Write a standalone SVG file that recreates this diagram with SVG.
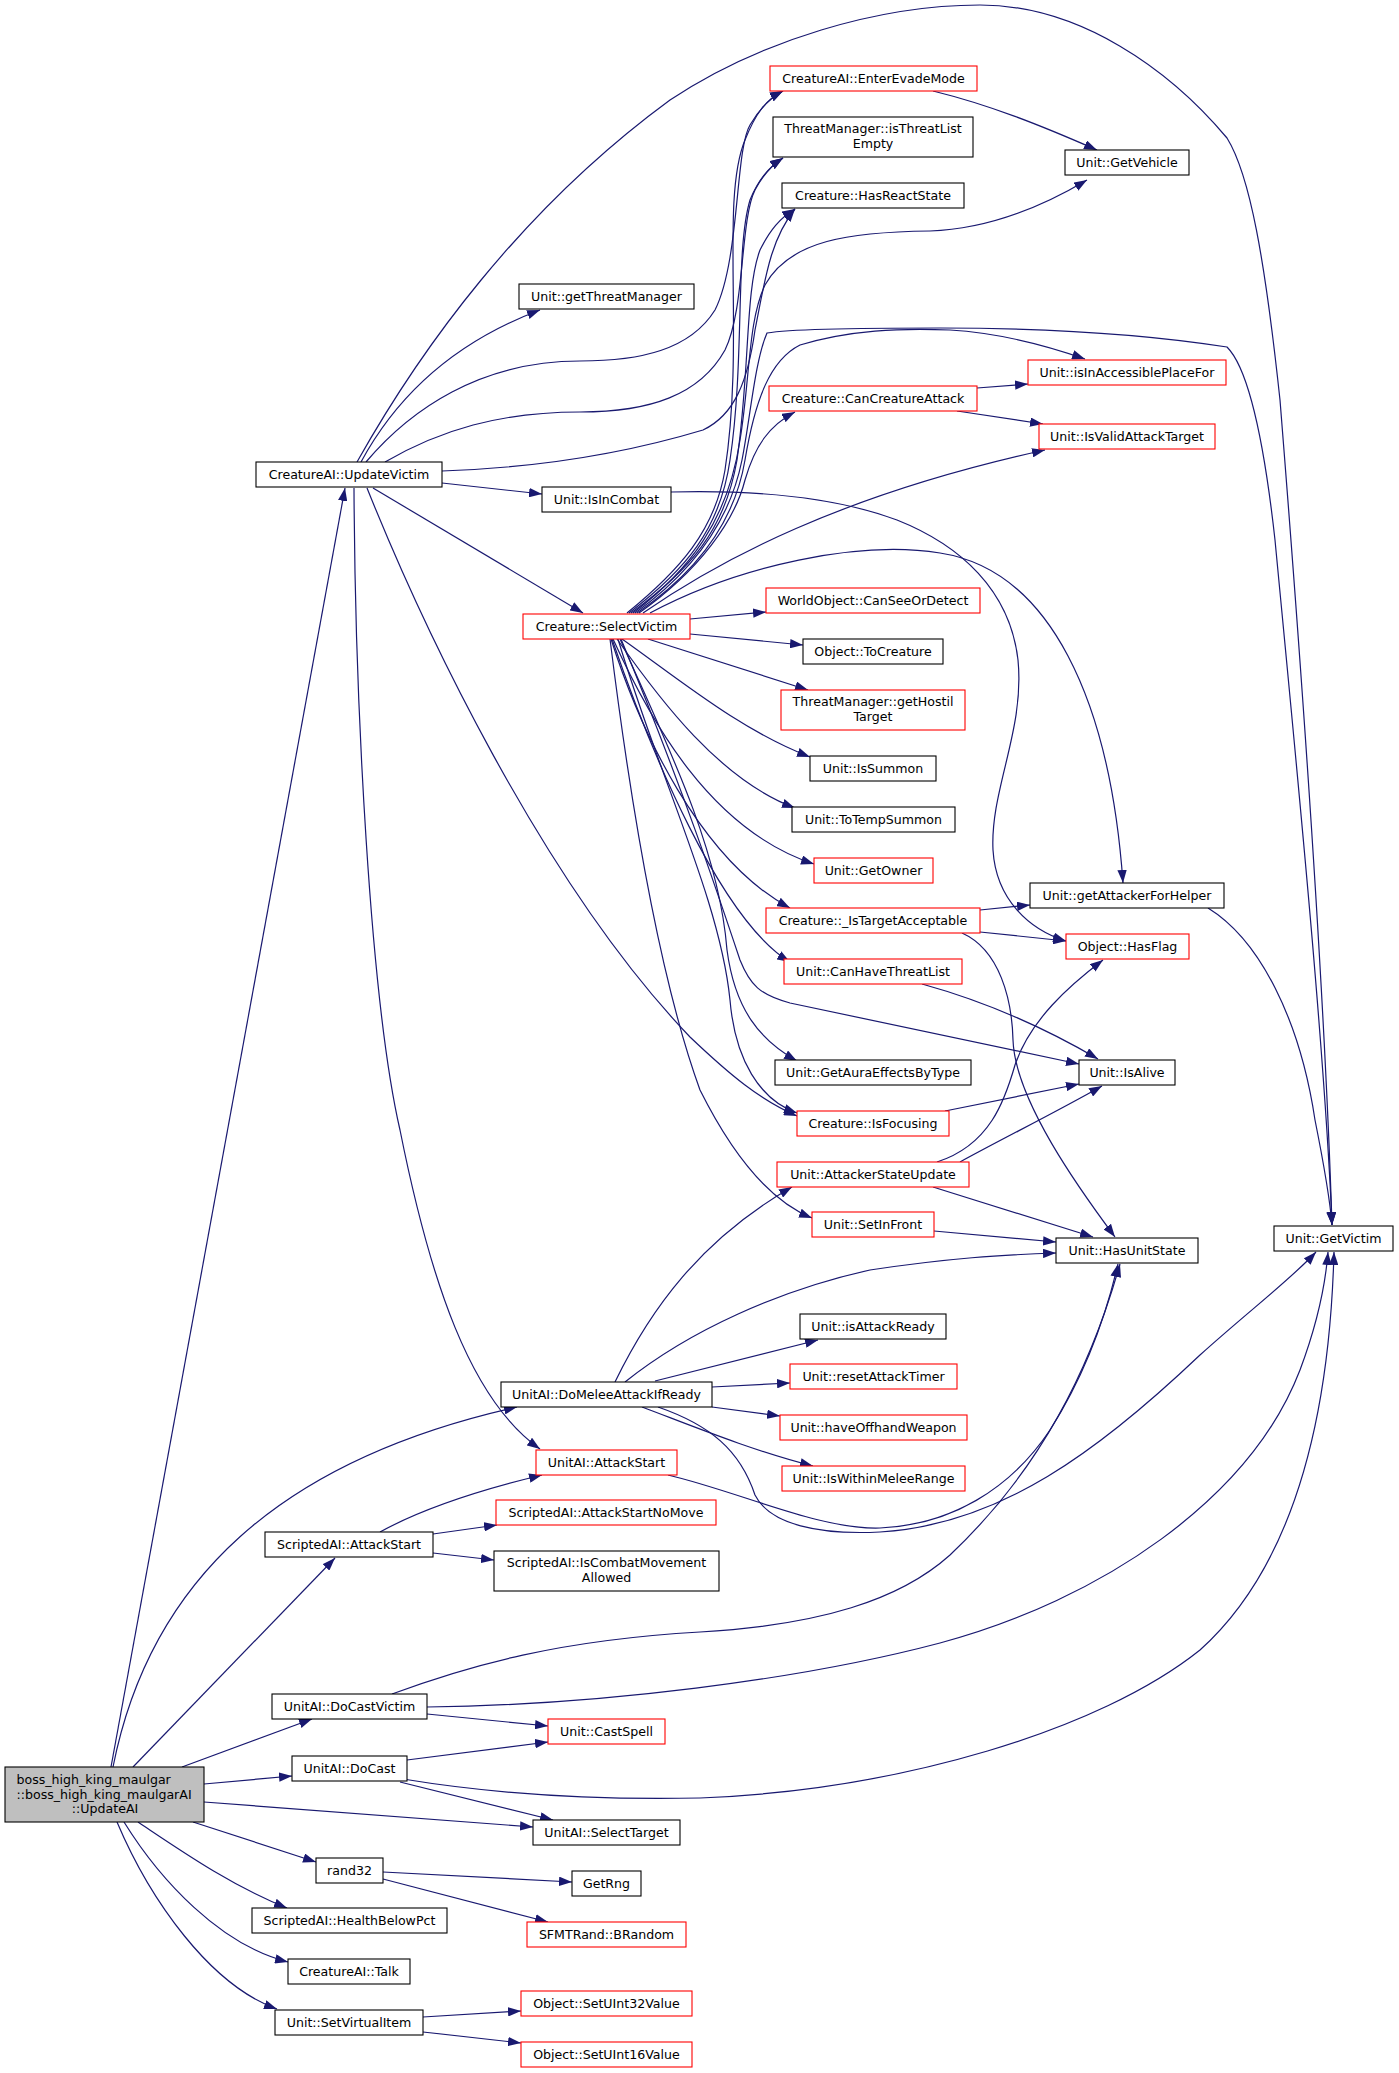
<svg xmlns="http://www.w3.org/2000/svg" width="1399" height="2073" viewBox="0 0 1399 2073">
<defs>
<style>
.n rect{fill:#fff;stroke:#000;stroke-width:1.1}
.n.r rect{stroke:#ff0000}
.n.root rect{fill:#bfbfbf}
text{font-family:"DejaVu Sans","Liberation Sans",sans-serif;font-size:12.6px;fill:#000;text-anchor:middle}
.e path{fill:none;stroke:#191970;stroke-width:1.2;marker-end:url(#ah)}
</style>
<marker id="ah" markerUnits="userSpaceOnUse" viewBox="0 0 13 9.4" refX="13" refY="4.7" markerWidth="13" markerHeight="9.4" orient="auto"><path d="M0,0 L13,4.7 L0,9.4 z" fill="#191970"/></marker>
</defs>
<rect width="1399" height="2073" fill="#fff"/>
<g id="edges" class="e">
<path d="M111,1767 L345,488"/>
<path d="M113,1767 C150,1580 280,1460 517,1407"/>
<path d="M133,1767 L335,1558"/>
<path d="M182,1767 L312,1719"/>
<path d="M204,1784 L292,1776"/>
<path d="M204,1802 L533,1827"/>
<path d="M193,1822 L316,1862"/>
<path d="M138,1822 C180,1850 230,1885 287,1908"/>
<path d="M124,1822 C160,1880 220,1945 288,1962"/>
<path d="M117,1822 C150,1900 210,1985 277,2009"/>
<path d="M357,462 C420,350 520,210 670,100 C760,40 880,5 980,5 C1080,5 1170,70 1227,138 C1250,175 1265,260 1280,400 C1300,650 1325,1000 1332,1225"/>
<path d="M361,462 C400,390 460,340 540,310"/>
<path d="M366,462 C410,410 480,361 580,361 C640,361 690,350 715,310 C740,260 735,150 750,125 C760,108 770,98 783,91"/>
<path d="M385,462 C440,430 500,412 580,412 C650,412 700,395 725,350 C745,310 740,220 755,190 C763,175 772,165 783,158"/>
<path d="M442,471 C530,468 620,455 703,430 C735,415 748,380 755,330 C765,280 770,240 795,209"/>
<path d="M442,483 L542,494"/>
<path d="M373,488 L583,613"/>
<path d="M354,488 C355,700 370,1000 400,1130 C430,1280 470,1400 540,1449"/>
<path d="M367,488 C420,620 540,880 690,1037 C730,1075 760,1100 797,1116"/>
<path d="M627,613 C680,570 715,530 725,470 C745,340 720,200 745,140 C755,115 765,100 783,91"/>
<path d="M629,613 C685,570 720,530 730,460 C745,360 735,250 750,200 C758,180 768,168 783,158"/>
<path d="M631,613 C690,570 725,530 737,460 C750,370 745,290 760,250 C770,230 780,218 795,209"/>
<path d="M633,613 C690,570 728,520 740,440 C750,380 748,320 765,285 C790,240 850,232 930,231 C990,229 1045,205 1087,180"/>
<path d="M635,613 C695,570 730,520 742,460 C750,420 755,360 767,333 C785,330 820,328 940,328 C1050,328 1150,335 1227,347 C1250,370 1265,450 1275,540 C1295,750 1325,1050 1332,1225"/>
<path d="M637,613 C700,570 735,520 745,460 C755,400 770,360 800,345 C850,330 900,328 950,330 C1000,333 1045,345 1085,359"/>
<path d="M639,613 C700,570 735,520 745,480 C755,445 770,425 795,412"/>
<path d="M643,613 C720,560 840,495 1045,450"/>
<path d="M650,613 C740,565 860,540 940,553 C1050,570 1110,700 1123,883"/>
<path d="M690,619 L766,612"/>
<path d="M690,634 L803,645"/>
<path d="M648,639 L808,690"/>
<path d="M622,639 C680,680 740,730 810,757"/>
<path d="M617,639 C660,700 720,780 795,808"/>
<path d="M613,639 C650,720 710,830 814,864"/>
<path d="M611,639 C640,730 700,860 790,908"/>
<path d="M612,639 C650,750 720,920 790,962"/>
<path d="M621,639 C680,780 720,900 740,960 C750,985 760,995 790,1003 L1079,1064"/>
<path d="M620,639 C680,770 720,860 727,950 C735,1010 760,1040 797,1061"/>
<path d="M618,639 C660,780 720,900 730,1000 C735,1060 760,1100 797,1113"/>
<path d="M610,639 C630,800 660,980 700,1090 C740,1170 780,1205 812,1218"/>
<path d="M671,492 C750,490 830,495 897,520 C960,545 1010,590 1018,660 C1025,730 990,790 993,850 C996,900 1030,930 1066,941"/>
<path d="M933,91 C990,105 1040,125 1097,150"/>
<path d="M977,388 L1028,384"/>
<path d="M957,411 L1043,424"/>
<path d="M980,910 L1030,905"/>
<path d="M980,932 L1066,941"/>
<path d="M962,933 C1000,950 1012,1000 1013,1040 C1015,1100 1080,1190 1115,1237"/>
<path d="M1208,908 C1260,940 1300,1020 1315,1120 C1325,1170 1330,1200 1332,1225"/>
<path d="M922,984 C980,1000 1040,1025 1098,1059"/>
<path d="M945,1111 L1079,1084"/>
<path d="M960,1162 C1000,1140 1060,1110 1102,1086"/>
<path d="M937,1162 C990,1145 1005,1100 1015,1065 C1030,1020 1070,985 1103,960"/>
<path d="M933,1187 L1093,1237"/>
<path d="M934,1231 L1056,1242"/>
<path d="M625,1382 C690,1330 780,1290 870,1270 C950,1258 1000,1255 1056,1253"/>
<path d="M615,1382 C650,1310 700,1240 792,1187"/>
<path d="M655,1381 L818,1340"/>
<path d="M712,1387 L790,1383"/>
<path d="M712,1407 L780,1416"/>
<path d="M642,1407 C690,1425 750,1450 813,1466"/>
<path d="M658,1407 C710,1425 740,1450 755,1495 C770,1525 820,1535 880,1532 C1000,1525 1100,1450 1200,1355 C1250,1310 1290,1280 1316,1252"/>
<path d="M668,1475 C740,1492 820,1530 880,1528 C950,1525 1010,1490 1050,1430 C1085,1375 1105,1320 1118,1264"/>
<path d="M380,1532 C420,1510 480,1490 542,1475"/>
<path d="M433,1534 L497,1525"/>
<path d="M433,1553 L494,1560"/>
<path d="M392,1694 C470,1665 560,1640 700,1632 C820,1625 900,1600 950,1555 C1040,1470 1090,1370 1120,1264"/>
<path d="M427,1707 C600,1705 800,1680 940,1643 C1100,1600 1250,1500 1300,1370 C1315,1330 1325,1290 1328,1252"/>
<path d="M427,1714 L548,1726"/>
<path d="M407,1760 L548,1742"/>
<path d="M403,1779 C500,1795 600,1800 700,1798 C900,1790 1100,1730 1200,1650 C1300,1560 1330,1400 1334,1252"/>
<path d="M400,1782 L553,1820"/>
<path d="M383,1872 L572,1882"/>
<path d="M383,1879 L548,1922"/>
<path d="M423,2017 L521,2011"/>
<path d="M423,2032 L521,2043"/>
</g>
<g id="n_root" class="n root"><rect x="5" y="1767" width="199" height="55"/><text x="16.5" y="1784" style="text-anchor:start">boss_high_king_maulgar</text><text x="16.5" y="1799" style="text-anchor:start">::boss_high_king_maulgarAI</text><text x="105" y="1813">::UpdateAI</text></g>
<g id="n_updatevictim" class="n"><rect x="256" y="462" width="186" height="25"/><text x="349" y="479">CreatureAI::UpdateVictim</text></g>
<g id="n_enterevade" class="n r"><rect x="770" y="66" width="207" height="25"/><text x="873.5" y="83">CreatureAI::EnterEvadeMode</text></g>
<g id="n_threatempty" class="n"><rect x="773" y="117" width="200" height="40"/><text x="873" y="133">ThreatManager::isThreatList</text><text x="873" y="148">Empty</text></g>
<g id="n_hasreact" class="n"><rect x="782" y="183" width="182" height="25"/><text x="873" y="200">Creature::HasReactState</text></g>
<g id="n_getthreatmgr" class="n"><rect x="519" y="284" width="175" height="25"/><text x="606.5" y="301">Unit::getThreatManager</text></g>
<g id="n_getvehicle" class="n"><rect x="1065" y="150" width="124" height="25"/><text x="1127" y="167">Unit::GetVehicle</text></g>
<g id="n_cancreatureattack" class="n r"><rect x="769" y="386" width="208" height="25"/><text x="873" y="403">Creature::CanCreatureAttack</text></g>
<g id="n_inaccessible" class="n r"><rect x="1028" y="360" width="198" height="25"/><text x="1127" y="377">Unit::isInAccessiblePlaceFor</text></g>
<g id="n_validattack" class="n r"><rect x="1039" y="424" width="176" height="25"/><text x="1127" y="441">Unit::IsValidAttackTarget</text></g>
<g id="n_isincombat" class="n"><rect x="542" y="487" width="129" height="25"/><text x="606.5" y="504">Unit::IsInCombat</text></g>
<g id="n_selectvictim" class="n r"><rect x="523" y="614" width="167" height="25"/><text x="606.5" y="631">Creature::SelectVictim</text></g>
<g id="n_canseeordetect" class="n r"><rect x="766" y="588" width="214" height="25"/><text x="873" y="605">WorldObject::CanSeeOrDetect</text></g>
<g id="n_tocreature" class="n"><rect x="803" y="639" width="140" height="25"/><text x="873" y="656">Object::ToCreature</text></g>
<g id="n_gethostil" class="n r"><rect x="781" y="690" width="184" height="40"/><text x="873" y="706">ThreatManager::getHostil</text><text x="873" y="721">Target</text></g>
<g id="n_issummon" class="n"><rect x="810" y="756" width="126" height="25"/><text x="873" y="773">Unit::IsSummon</text></g>
<g id="n_totempsummon" class="n"><rect x="792" y="807" width="163" height="25"/><text x="873.5" y="824">Unit::ToTempSummon</text></g>
<g id="n_getowner" class="n r"><rect x="814" y="858" width="119" height="25"/><text x="873.5" y="875">Unit::GetOwner</text></g>
<g id="n_istargetacceptable" class="n r"><rect x="766" y="908" width="214" height="25"/><text x="873" y="925">Creature::_IsTargetAcceptable</text></g>
<g id="n_canhavethreatlist" class="n r"><rect x="784" y="959" width="178" height="25"/><text x="873" y="976">Unit::CanHaveThreatList</text></g>
<g id="n_getattackerforhelper" class="n"><rect x="1030" y="883" width="194" height="25"/><text x="1127" y="900">Unit::getAttackerForHelper</text></g>
<g id="n_hasflag" class="n r"><rect x="1066" y="934" width="123" height="25"/><text x="1127.5" y="951">Object::HasFlag</text></g>
<g id="n_getauraeffects" class="n"><rect x="775" y="1060" width="196" height="25"/><text x="873" y="1077">Unit::GetAuraEffectsByType</text></g>
<g id="n_isfocusing" class="n r"><rect x="797" y="1111" width="152" height="25"/><text x="873" y="1128">Creature::IsFocusing</text></g>
<g id="n_attackerstateupdate" class="n r"><rect x="777" y="1162" width="192" height="25"/><text x="873" y="1179">Unit::AttackerStateUpdate</text></g>
<g id="n_setinfront" class="n r"><rect x="812" y="1212" width="122" height="25"/><text x="873" y="1229">Unit::SetInFront</text></g>
<g id="n_isalive" class="n"><rect x="1079" y="1060" width="96" height="25"/><text x="1127" y="1077">Unit::IsAlive</text></g>
<g id="n_hasunitstate" class="n"><rect x="1056" y="1238" width="142" height="25"/><text x="1127" y="1255">Unit::HasUnitState</text></g>
<g id="n_getvictim" class="n"><rect x="1274" y="1226" width="119" height="25"/><text x="1333.5" y="1243">Unit::GetVictim</text></g>
<g id="n_isattackready" class="n"><rect x="800" y="1314" width="146" height="25"/><text x="873" y="1331">Unit::isAttackReady</text></g>
<g id="n_resetattacktimer" class="n r"><rect x="790" y="1364" width="167" height="25"/><text x="873.5" y="1381">Unit::resetAttackTimer</text></g>
<g id="n_haveoffhand" class="n r"><rect x="780" y="1415" width="187" height="25"/><text x="873.5" y="1432">Unit::haveOffhandWeapon</text></g>
<g id="n_withinmelee" class="n r"><rect x="782" y="1466" width="183" height="25"/><text x="873.5" y="1483">Unit::IsWithinMeleeRange</text></g>
<g id="n_domelee" class="n"><rect x="501" y="1382" width="211" height="25"/><text x="606.5" y="1399">UnitAI::DoMeleeAttackIfReady</text></g>
<g id="n_unitai_attackstart" class="n r"><rect x="536" y="1450" width="141" height="25"/><text x="606.5" y="1467">UnitAI::AttackStart</text></g>
<g id="n_attackstartnomove" class="n r"><rect x="496" y="1500" width="220" height="25"/><text x="606" y="1517">ScriptedAI::AttackStartNoMove</text></g>
<g id="n_combatmovement" class="n"><rect x="494" y="1551" width="225" height="40"/><text x="606.5" y="1567">ScriptedAI::IsCombatMovement</text><text x="606.5" y="1582">Allowed</text></g>
<g id="n_scripted_attackstart" class="n"><rect x="265" y="1532" width="168" height="25"/><text x="349" y="1549">ScriptedAI::AttackStart</text></g>
<g id="n_docastvictim" class="n"><rect x="272" y="1694" width="155" height="25"/><text x="349.5" y="1711">UnitAI::DoCastVictim</text></g>
<g id="n_docast" class="n"><rect x="292" y="1756" width="115" height="25"/><text x="349.5" y="1773">UnitAI::DoCast</text></g>
<g id="n_castspell" class="n r"><rect x="548" y="1719" width="117" height="25"/><text x="606.5" y="1736">Unit::CastSpell</text></g>
<g id="n_selecttarget" class="n"><rect x="533" y="1820" width="147" height="25"/><text x="606.5" y="1837">UnitAI::SelectTarget</text></g>
<g id="n_rand32" class="n"><rect x="316" y="1858" width="67" height="25"/><text x="349.5" y="1875">rand32</text></g>
<g id="n_getrng" class="n"><rect x="572" y="1871" width="69" height="25"/><text x="606.5" y="1888">GetRng</text></g>
<g id="n_brandom" class="n r"><rect x="527" y="1922" width="159" height="25"/><text x="606.5" y="1939">SFMTRand::BRandom</text></g>
<g id="n_healthbelowpct" class="n"><rect x="252" y="1908" width="195" height="25"/><text x="349.5" y="1925">ScriptedAI::HealthBelowPct</text></g>
<g id="n_talk" class="n"><rect x="288" y="1959" width="122" height="25"/><text x="349" y="1976">CreatureAI::Talk</text></g>
<g id="n_setvirtualitem" class="n"><rect x="275" y="2010" width="148" height="25"/><text x="349" y="2027">Unit::SetVirtualItem</text></g>
<g id="n_setuint32" class="n r"><rect x="521" y="1991" width="171" height="25"/><text x="606.5" y="2008">Object::SetUInt32Value</text></g>
<g id="n_setuint16" class="n r"><rect x="521" y="2042" width="171" height="25"/><text x="606.5" y="2059">Object::SetUInt16Value</text></g>
</svg>
